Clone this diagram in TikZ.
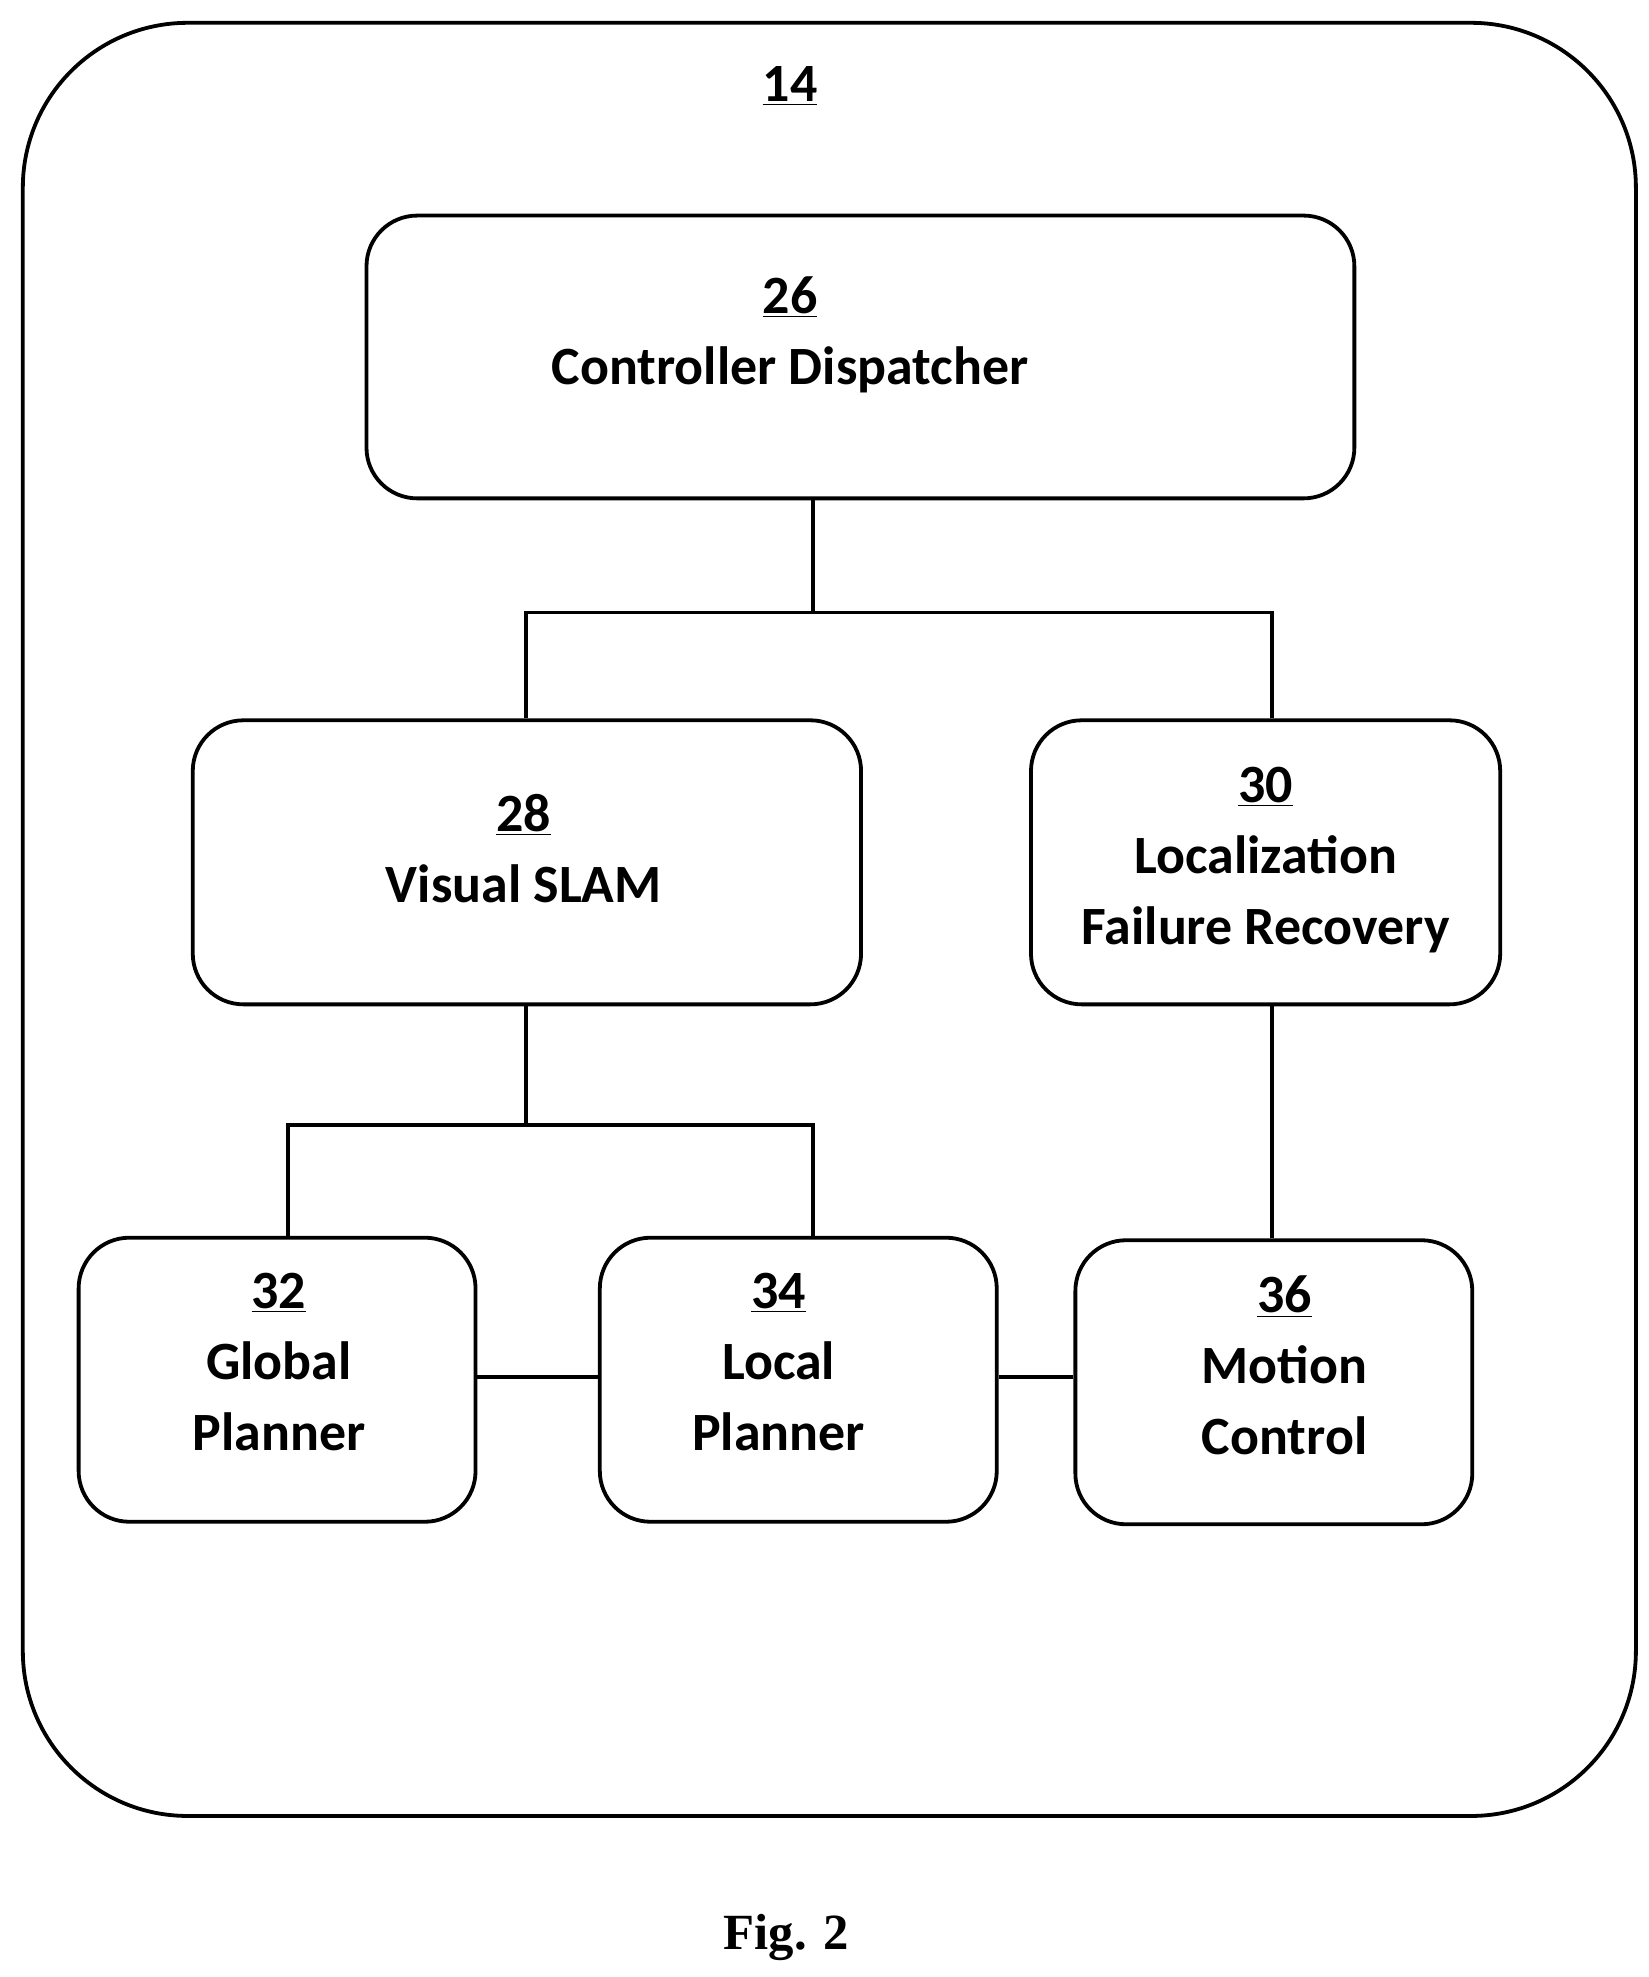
\documentclass[tikz,border=0pt]{standalone}
\usepackage{fontspec}
\setmainfont{Carlito}
\newfontfamily\figfont{Liberation Serif}
\begin{document}
\begin{tikzpicture}[x=0.6pt,y=-0.6pt,
  ln/.style={line width=1.8pt},
  lbl/.style={align=center,font=\fontsize{25.5}{33.6}\selectfont\bfseries,inner sep=0pt}]
\useasboundingbox (0,0) rectangle (1300,1559);
\draw[line width=1.8pt,rounded corners=78pt] (18,18) rectangle (1290,1432);
\node[lbl] (n14) at (623,68) {\underline{14}};
\def\bx#1#2#3#4#5{\node[draw,line width=1.8pt,rounded corners=24pt,minimum width={(#4-#2)*0.6pt},minimum height={(#5-#3)*0.6pt},inner sep=0pt] (#1) at ({(#2+#4)/2},{(#3+#5)/2}) {};}
\bx{b26}{289}{170}{1068}{393}
\bx{b28}{152}{568}{679}{792}
\bx{b30}{813}{568}{1183}{792}
\bx{b32}{62}{976}{375}{1200}
\bx{b34}{473}{976}{786}{1200}
\bx{b36}{848}{978}{1161}{1202}
\node[lbl] (t26) at (623,264) {\underline{26}\\Controller Dispatcher};
\node[lbl] (t28) at (413,669) {\underline{28}\\Visual SLAM};
\node[lbl] (t30) at (998,678) {\underline{30}\\Localization\\Failure Recovery};
\node[lbl] (t32) at (220,1074) {\underline{32}\\Global\\Planner};
\node[lbl] (t34) at (614,1074) {\underline{34}\\Local\\Planner};
\node[lbl] (t36) at (1013,1077) {\underline{36}\\Motion\\Control};
\coordinate (j1) at (641,483);
\coordinate (j2) at (415,887);
\draw[ln] (b26.south -| j1) -- (j1);
\draw[ln] (j1) -| (b28.north -| 415,0);
\draw[ln] (j1) -| (b30.north -| 1003,0);
\draw[ln] (b28.south -| j2) -- (j2);
\draw[ln] (j2) -| (b32.north -| 227,0);
\draw[ln] (j2) -| (b34.north -| 641,0);
\draw[ln] (b30.south -| 1003,0) -- (b36.north -| 1003,0);
\draw[ln] (b32.east |- 0,1086) -- (b34.west |- 0,1086);
\draw[ln] (b34.east |- 0,1086) -- (b36.west |- 0,1086);
\node[font=\figfont\fontsize{24}{28}\selectfont\bfseries] (fig) at (620,1528) {Fig. 2};
\end{tikzpicture}
\end{document}
